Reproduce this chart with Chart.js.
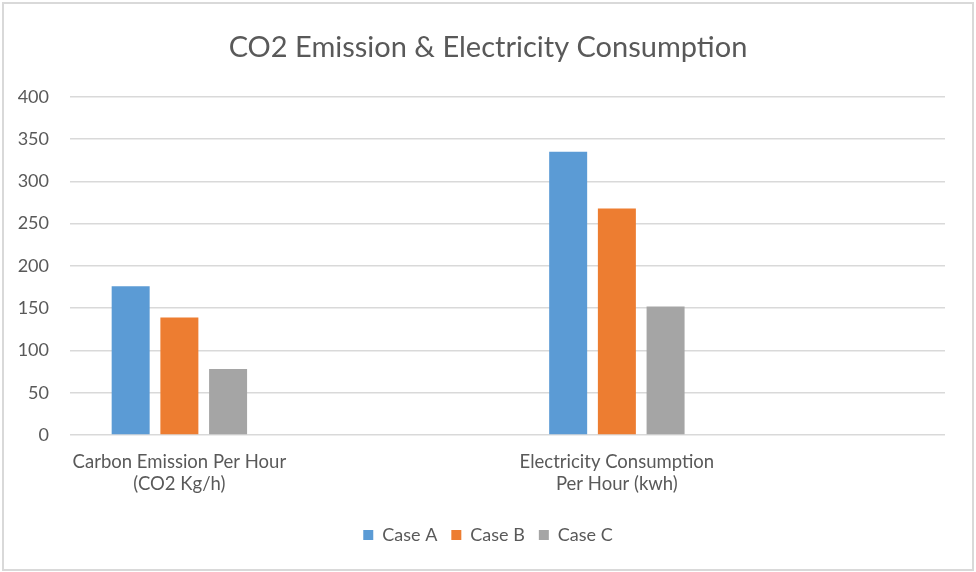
<!DOCTYPE html>
<html>
<head>
<meta charset="utf-8">
<script src="https://cdn.jsdelivr.net/npm/chart.js@4.4.1/dist/chart.umd.min.js"></script>
<style>
  html, body { margin: 0; padding: 0; background: #fff; }
  #wrap { width: 976px; height: 572px; position: relative; }
</style>
</head>
<body>
<div id="wrap"><canvas id="chart" width="976" height="572"></canvas></div>
<script>
// Datos del gráfico
const categorias = [
    ['Carbon Emission Per Hour', '(CO2 Kg/h)'],
    '',
    ['Electricity Consumption', 'Per Hour (kwh)'],
    ''
];
const casoA = [176, null, 335, null];
const casoB = [139, null, 268, null];
const casoC = [78, null, 152, null];
const ticksY = [0, 50, 100, 150, 200, 250, 300, 350, 400];

const colores = {
    a: '#5B9BD5',
    b: '#ED7D31',
    c: '#A5A5A5',
    texto: '#595959',
    grid: '#D9D9D9'
};

// Marco exterior del gráfico
const marco = {
    id: 'marco',
    afterDraw(chart) {
        const c = chart.ctx;
        c.save();
        c.strokeStyle = '#D9D9D9';
        c.lineWidth = 2;
        c.strokeRect(3, 3, chart.width - 6, chart.height - 5);
        c.restore();
    }
};

const fuente = 'Lato, "Open Sans", sans-serif';

new Chart(document.getElementById('chart'), {
    type: 'bar',
    data: {
        labels: categorias,
        datasets: [
            { label: 'Case A', data: casoA, backgroundColor: colores.a },
            { label: 'Case B', data: casoB, backgroundColor: colores.b },
            { label: 'Case C', data: casoC, backgroundColor: colores.c }
        ]
    },
    options: {
        responsive: false,
        animation: false,
        categoryPercentage: 0.668,
        barPercentage: 0.78,
        layout: { padding: { top: 10, left: 0, right: 0, bottom: 18 } },
        plugins: {
            title: {
                display: true,
                text: 'CO2 Emission & Electricity Consumption',
                color: colores.texto,
                font: { family: fuente, size: 29, weight: 'normal' },
                padding: { top: 20, bottom: 32 }
            },
            legend: {
                position: 'bottom',
                labels: {
                    color: colores.texto,
                    boxWidth: 10,
                    boxHeight: 10,
                    padding: 14,
                    font: { family: fuente, size: 18 }
                }
            },
            tooltip: { enabled: false }
        },
        scales: {
            x: {
                grid: { display: false },
                border: { display: false },
                ticks: {
                    color: colores.texto,
                    maxRotation: 0,
                    autoSkip: false,
                    padding: 8,
                    font: { family: fuente, size: 18.5, lineHeight: 1.2 }
                },
                afterFit(scale) { scale.height = 77; }
            },
            y: {
                min: 0,
                max: 400,
                afterBuildTicks(scale) { scale.ticks = ticksY.map(v => ({ value: v })); },
                grid: { color: colores.grid, lineWidth: 1.5, drawTicks: false },
                border: { display: false },
                ticks: {
                    color: colores.texto,
                    padding: 21,
                    font: { family: fuente, size: 18 }
                },
                afterFit(scale) { scale.width = 70; }
            },
            // eje vacío a la derecha, solo reserva espacio
            derecha: {
                type: 'linear',
                position: 'right',
                grid: { display: false },
                border: { display: false },
                ticks: { display: false },
                afterFit(scale) { scale.width = 31; }
            }
        }
    },
    plugins: [marco]
});
</script>
</body>
</html>
